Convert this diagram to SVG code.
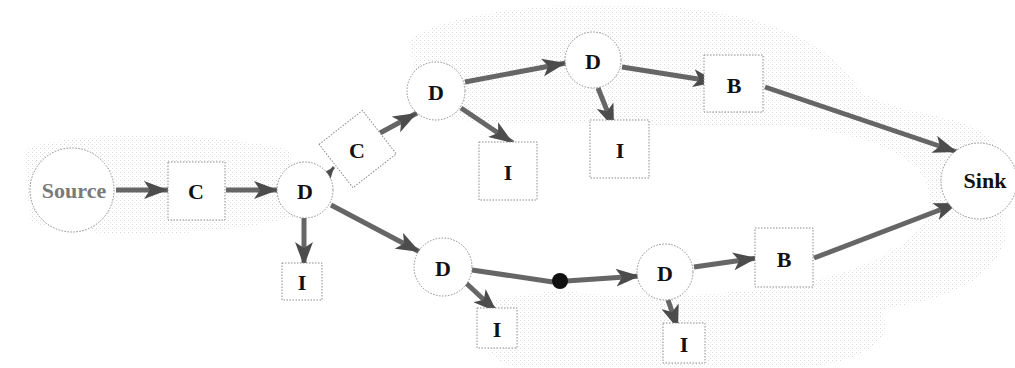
<svg xmlns="http://www.w3.org/2000/svg" width="1015" height="368" viewBox="0 0 1015 368">
  <style>
    .node { fill: #ffffff; stroke: #8a8a8a; stroke-width: 1; stroke-dasharray: 1.5 1.5; }
    .lbl { font-family: "Liberation Serif", "Times New Roman", serif; font-weight: bold; font-size: 22px; fill: #111; text-anchor: middle; dominant-baseline: central; }
    .src { fill: #7a7a7a; }
    .edge { stroke: #666; stroke-width: 5; fill: none; marker-end: url(#head); }
    .plain { stroke: #666; stroke-width: 5; fill: none; }
    .short { stroke: #666; stroke-width: 3; fill: none; marker-end: url(#headSmall); }
    .haze { fill: url(#stipple); }
  </style>
  <defs>
    <pattern id="stipple" width="4" height="4" patternUnits="userSpaceOnUse">
      <rect x="0" y="0" width="1" height="1" fill="#9a9a9a"/>
      <rect x="2" y="2" width="1" height="1" fill="#c8c8c8"/>
    </pattern>
    <marker id="head" viewBox="0 0 24 18" refX="24" refY="9" markerWidth="24" markerHeight="18" markerUnits="userSpaceOnUse" orient="auto">
      <path d="M0,0 L24,9 L0,18 L6,9 Z" fill="#4c4c4c"/>
    </marker>
    <marker id="headSmall" viewBox="0 0 12 10" refX="12" refY="5" markerWidth="12" markerHeight="10" markerUnits="userSpaceOnUse" orient="auto">
      <path d="M0,0 L12,5 L0,10 L3,5 Z" fill="#4c4c4c"/>
    </marker>
  </defs>

  <!-- halftone background cloud -->
  <g id="background" opacity="0.4">
    <path class="haze" d="M25,150 C60,132 200,128 290,150 L300,215 C220,238 90,240 30,222 Z"/>
    <path class="haze" d="M410,40 C450,10 560,0 680,8 C760,14 830,40 860,90 C900,120 980,110 1000,150 L1005,240 C990,290 930,300 880,310 C900,340 860,368 780,368 L520,368 C480,360 470,330 490,300 L560,290 C620,300 700,295 760,290 C840,280 930,250 930,200 C930,160 880,140 820,130 C760,120 700,130 650,125 C560,120 470,130 420,110 Z"/>
  </g>

  <g id="connectors">
    <line class="edge" x1="116" y1="190" x2="168" y2="190"/>
    <line class="edge" x1="226" y1="190" x2="278" y2="190"/>
    <line class="edge" x1="304" y1="218" x2="304" y2="266"/>
    <line class="short" x1="326" y1="177" x2="334" y2="167"/>
    <line class="edge" x1="380" y1="133" x2="417" y2="113"/>
    <line class="edge" x1="465" y1="82" x2="566" y2="63"/>
    <line class="edge" x1="461" y1="108" x2="513" y2="143"/>
    <line class="edge" x1="598" y1="88" x2="614" y2="128"/>
    <line class="edge" x1="622" y1="67" x2="717" y2="82"/>
    <line class="edge" x1="765" y1="87" x2="957" y2="152"/>
    <line class="edge" x1="331" y1="205" x2="420" y2="252"/>
    <line class="edge" x1="466" y1="283" x2="497" y2="312"/>
    <line class="plain" x1="472" y1="270" x2="553" y2="282"/>
    <line class="edge" x1="566" y1="281" x2="640" y2="276"/>
    <line class="edge" x1="668" y1="300" x2="678" y2="329"/>
    <line class="edge" x1="694" y1="267" x2="757" y2="258"/>
    <line class="edge" x1="814" y1="258" x2="958" y2="203"/>
  </g>

  <g id="source"><circle class="node" cx="72" cy="190" r="42"/><text class="lbl src" x="74" y="190">Source</text></g>
  <g id="c1"><rect class="node" x="168" y="162" width="57" height="58"/><text class="lbl" x="196" y="191">C</text></g>
  <g id="d1"><circle class="node" cx="305" cy="190" r="28"/><text class="lbl" x="305" y="191">D</text></g>
  <g id="i1"><rect class="node" x="282" y="263" width="40" height="37"/><text class="lbl" x="302" y="282">I</text></g>
  <g id="c2"><rect class="node" x="330" y="122" width="55" height="55" transform="rotate(-38 357 149)"/><text class="lbl" x="357" y="150">C</text></g>
  <g id="d2"><circle class="node" cx="436" cy="91" r="29"/><text class="lbl" x="436" y="92">D</text></g>
  <g id="i2"><rect class="node" x="479" y="142" width="58" height="58"/><text class="lbl" x="508" y="172">I</text></g>
  <g id="d3"><circle class="node" cx="593" cy="60" r="28"/><text class="lbl" x="593" y="61">D</text></g>
  <g id="i3"><rect class="node" x="590" y="120" width="59" height="58"/><text class="lbl" x="620" y="150">I</text></g>
  <g id="b1"><rect class="node" x="704" y="55" width="59" height="57"/><text class="lbl" x="734" y="85">B</text></g>
  <g id="d4"><circle class="node" cx="443" cy="267" r="29"/><text class="lbl" x="443" y="268">D</text></g>
  <g id="i4"><rect class="node" x="477" y="308" width="40" height="40"/><text class="lbl" x="497" y="329">I</text></g>
  <g id="join"><circle cx="560" cy="281" r="8" fill="#111"/></g>
  <g id="d5"><circle class="node" cx="665" cy="272" r="28"/><text class="lbl" x="665" y="273">D</text></g>
  <g id="i5"><rect class="node" x="663" y="323" width="42" height="40"/><text class="lbl" x="684" y="344">I</text></g>
  <g id="b2"><rect class="node" x="755" y="228" width="58" height="59"/><text class="lbl" x="784" y="259">B</text></g>
  <g id="sink"><circle class="node" cx="979" cy="181" r="38"/><text class="lbl" x="985" y="180">Sink</text></g>
</svg>
